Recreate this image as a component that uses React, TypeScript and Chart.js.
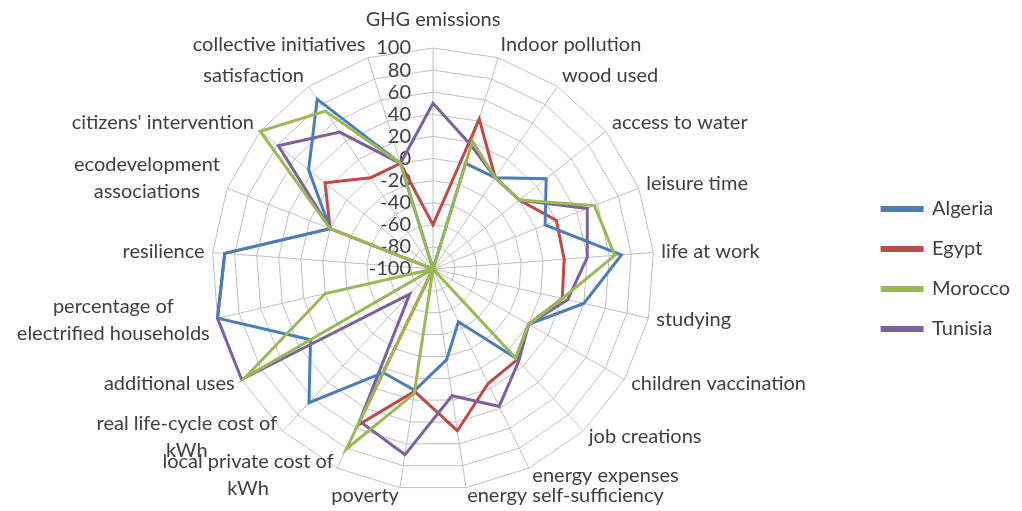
import React, { useEffect, useRef } from "react";
import { Chart, registerables } from "chart.js";

Chart.register(...registerables);

const categories: (string | string[])[] = [
  "GHG emissions",
  "Indoor pollution",
  "wood used",
  "access to water",
  "leisure time",
  "life at work",
  "studying",
  "children vaccination",
  "job creations",
  "energy expenses",
  "energy self-sufficiency",
  "poverty",
  ["local private cost of", "kWh"],
  ["real life-cycle cost of", "kWh"],
  "additional uses",
  ["percentage of", "electrified households"],
  "resilience",
  ["ecodevelopment", "associations"],
  "citizens' intervention",
  "satisfaction",
  "collective initiatives",
];

const algeria = [-100, 0, 0, 31, 9, 71, 40, 0, 10, -47, -17, 11, 4, 65, 28, 100, 89, 0, 44, 86, 0];
const egypt = [-60, 42, 0, 0, 20, 19, 20, 0, 12, 15, 48, 12, 57, -100, -100, -100, -100, 0, 25, 0, 0];
const morocco = [-100, 21, 0, 0, 57, 65, 20, 0, 10, -100, -100, 14, 81, -100, 96, 0, -100, 0, 100, 73, 0];
const tunisia = [50, 17, 0, 0, 50, 40, 25, 0, 14, 38, 16, 70, 53, -69, 100, 100, 89, 0, 79, 50, 0];

const seriesNames = ["Algeria", "Egypt", "Morocco", "Tunisia"];
const seriesColors = ["#4A7EBB", "#BE4B48", "#98B954", "#7D60A0"];
const drawOrder = [1, 3, 0, 2];

const scaleMin = -100;
const scaleMax = 100;
const scaleStep = 20;

const FONT = "Lato, 'Open Sans', sans-serif";
const TEXT = "#404040";
const FS = 20;
const LINE_H = 27;

// Tick labels drawn to the left of the vertical spoke, as in the original.
const tickLabelPlugin = {
  id: "leftTickLabels",
  beforeDatasetsDraw(chart: any) {
    const s = chart.scales.r;
    const ctx = chart.ctx;
    ctx.save();
    ctx.font = `${FS}px ${FONT}`;
    ctx.fillStyle = TEXT;
    ctx.textAlign = "right";
    ctx.textBaseline = "middle";
    s.ticks.forEach((t: any) => {
      const d = s.getDistanceFromCenterForValue(t.value);
      ctx.fillText(String(t.value), s.xCenter - 22, s.yCenter - d);
    });
    ctx.restore();
  },
};

// Category labels placed next to each spoke end, centred multi-line text.
const pointLabelPlugin = {
  id: "spokeLabels",
  beforeDatasetsDraw(chart: any) {
    const s = chart.scales.r;
    const ctx = chart.ctx;
    const labels = chart.data.labels as (string | string[])[];
    ctx.save();
    ctx.font = `${FS}px ${FONT}`;
    ctx.fillStyle = TEXT;
    ctx.textAlign = "center";
    ctx.textBaseline = "middle";
    labels.forEach((lbl, i) => {
      const lines = Array.isArray(lbl) ? lbl : [lbl];
      const ang = s.getIndexAngle(i);
      const sin = Math.sin(ang);
      const cos = Math.cos(ang);
      const e = s.getPointPosition(i, s.drawingArea);
      const w = Math.max(...lines.map((l) => ctx.measureText(l).width));
      const h = lines.length * LINE_H;
      let cx = e.x;
      if (sin > 0.05) cx = e.x + 8 * sin + w / 2;
      else if (sin < -0.05) cx = e.x + 8 * sin - w / 2;
      let cy: number;
      if (Math.abs(sin) < 0.05 && cos > 0) cy = e.y - 28;
      else if (cos > 0) cy = e.y - (h / 2) * cos;
      else cy = e.y + 8 * -cos;
      lines.forEach((l, k) => {
        ctx.fillText(l, cx, cy - h / 2 + LINE_H / 2 + k * LINE_H);
      });
    });
    ctx.restore();
  },
};

export default function App() {
  const ref = useRef<HTMLCanvasElement>(null);
  useEffect(() => {
    document.documentElement.style.overflow = "hidden";
    document.body.style.overflow = "hidden";
    if (!ref.current) return;
    const all = [algeria, egypt, morocco, tunisia];
    const chart = new Chart(ref.current, {
      type: "radar",
      data: {
        labels: categories,
        datasets: all.map((d, i) => ({
          label: seriesNames[i],
          data: d,
          borderColor: seriesColors[i],
          backgroundColor: seriesColors[i],
          borderWidth: 3,
          pointRadius: 0,
          fill: false,
          tension: 0,
          order: drawOrder[i],
        })),
      },
      options: {
        responsive: false,
        animation: false,
        layout: { padding: { left: 0, right: 2, top: 40, bottom: 21 } },
        plugins: {
          tooltip: { enabled: false },
          legend: {
            position: "right",
            align: "center",
            labels: {
              sort: (a: any, b: any) => a.datasetIndex - b.datasetIndex,
              boxWidth: 40,
              boxHeight: 3,
              padding: 20,
              color: TEXT,
              font: { family: FONT, size: FS },
            },
          },
        },
        scales: {
          r: {
            min: scaleMin,
            max: scaleMax,
            ticks: { stepSize: scaleStep, display: false },
            grid: { color: "#C0C0C0", lineWidth: 1, circular: false },
            angleLines: { color: "#C0C0C0", lineWidth: 1 },
            pointLabels: { display: false },
          },
        },
      },
      plugins: [tickLabelPlugin, pointLabelPlugin],
    });
    return () => chart.destroy();
  }, []);
  return (
    <div style={{ width: 1018, height: 503, marginLeft: -4 }}>
      <canvas ref={ref} width={1018} height={503} style={{ display: "block" }} />
    </div>
  );
}
